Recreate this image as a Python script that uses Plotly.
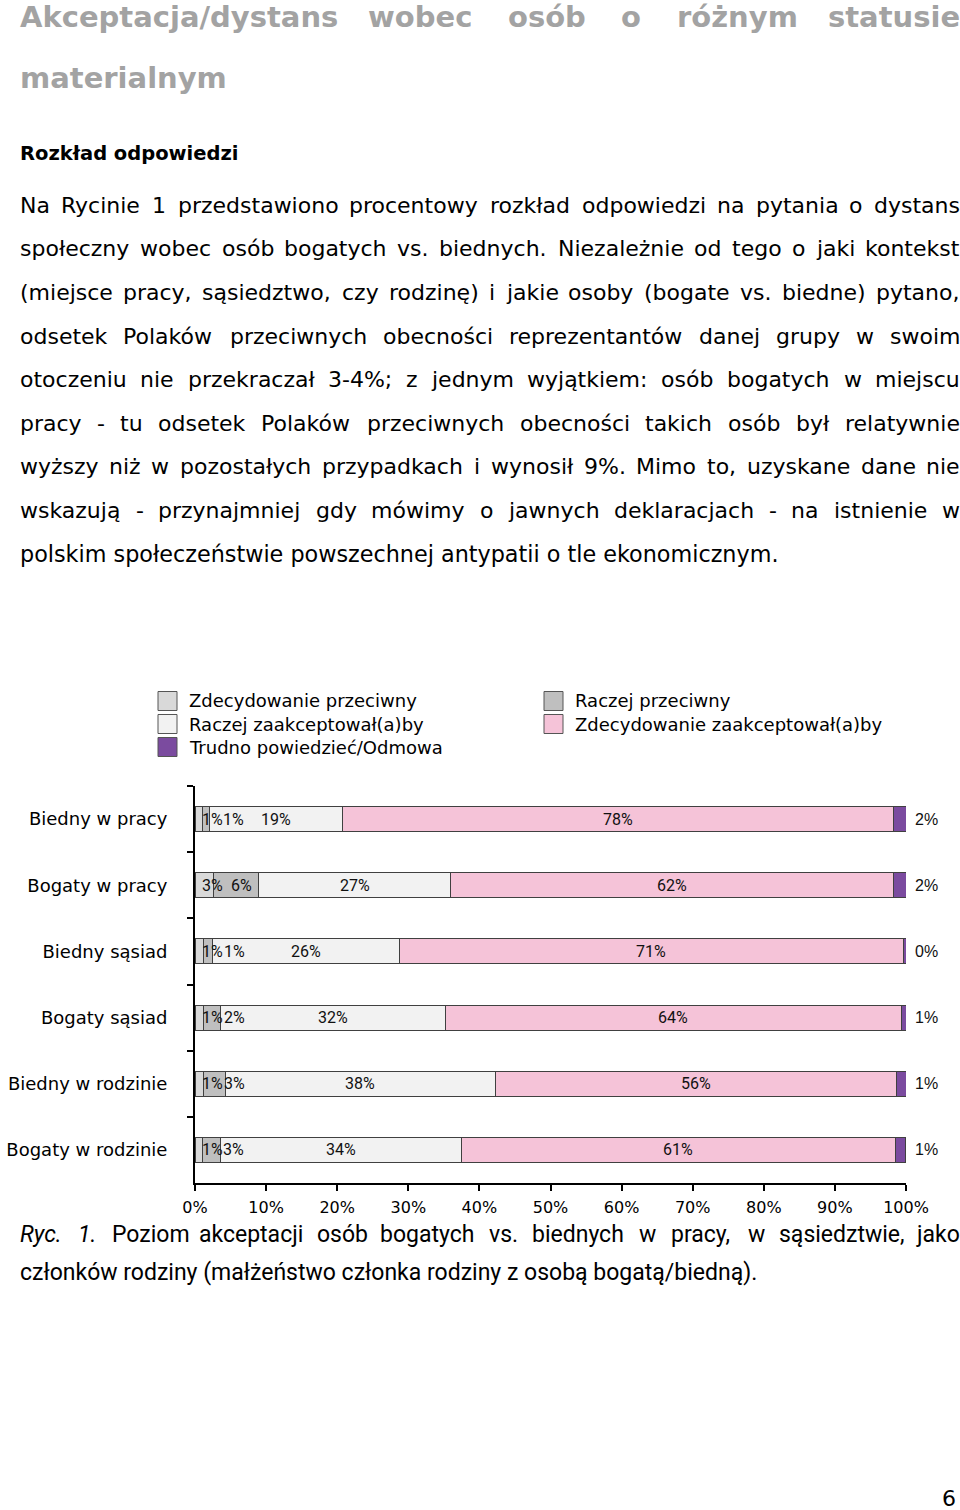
import plotly.graph_objects as go

# ---------------- data ----------------
categories = ["Biedny w pracy", "Bogaty w pracy", "Biedny sąsiad",
              "Bogaty sąsiad", "Biedny w rodzinie", "Bogaty w rodzinie"]
series_names = ["Zdecydowanie przeciwny", "Raczej przeciwny",
                "Raczej zaakceptował(a)by", "Zdecydowanie zaakceptował(a)by",
                "Trudno powiedzieć/Odmowa"]
zdec_przeciwny = [1.0, 2.6, 1.2, 1.2, 1.2, 1.0]
raczej_przeciwny = [1.1, 6.3, 1.2, 2.4, 3.1, 2.6]
raczej_zaakceptowalby = [18.6, 27.1, 26.3, 31.6, 37.9, 33.9]
zdec_zaakceptowalby = [77.6, 62.2, 71.0, 64.1, 56.4, 61.0]
trudno_odmowa = [1.7, 1.8, 0.3, 0.7, 1.4, 1.4]
x_ticks = [0, 10, 20, 30, 40, 50, 60, 70, 80, 90, 100]
x_tick_labels = ["0%", "10%", "20%", "30%", "40%", "50%", "60%", "70%", "80%", "90%", "100%"]

title_lines = ["Akceptacja/dystans wobec osób o różnym statusie", "materialnym"]
heading = "Rozkład odpowiedzi"
body_lines = [
    "Na Rycinie 1 przedstawiono procentowy rozkład odpowiedzi na pytania o dystans",
    "społeczny wobec osób bogatych vs. biednych. Niezależnie od tego o jaki kontekst",
    "(miejsce pracy, sąsiedztwo, czy rodzinę) i jakie osoby (bogate vs. biedne) pytano,",
    "odsetek Polaków przeciwnych obecności reprezentantów danej grupy w swoim",
    "otoczeniu nie przekraczał 3-4%; z jednym wyjątkiem: osób bogatych w miejscu",
    "pracy - tu odsetek Polaków przeciwnych obecności takich osób był relatywnie",
    "wyższy niż w pozostałych przypadkach i wynosił 9%. Mimo to, uzyskane dane nie",
    "wskazują - przynajmniej gdy mówimy o jawnych deklaracjach - na istnienie w",
    "polskim społeczeństwie powszechnej antypatii o tle ekonomicznym.",
]
caption_lines = [
    "<i>Ryc.</i> <i>1.</i> Poziom akceptacji osób bogatych vs. biednych w pracy, w sąsiedztwie, jako",
    "członków rodziny (małżeństwo członka rodziny z osobą bogatą/biedną).",
]
page_number = "6"

# ---------------- helpers ----------------
W, H = 960, 1510


def PX(x):
    return x / W


def PY(y):
    return 1 - y / H


DV = {" ": 651, "%": 1946, "(": 799, ")": 799, ",": 651, "-": 739, ".": 651, "/": 690,
      ":": 690, ";": 690,
      "A": 1401, "B": 1405, "C": 1430, "D": 1577, "E": 1294, "F": 1178, "G": 1587,
      "H": 1540, "I": 604, "J": 604, "K": 1343, "L": 1141, "M": 1767, "N": 1532,
      "O": 1612, "P": 1235, "Q": 1612, "R": 1423, "S": 1300, "T": 1251, "U": 1499,
      "V": 1401, "W": 2025, "X": 1403, "Y": 1251, "Z": 1403,
      "a": 1255, "b": 1300, "c": 1126, "d": 1300, "e": 1260, "f": 721, "g": 1300,
      "h": 1298, "i": 569, "j": 569, "k": 1186, "l": 569, "m": 1995, "n": 1298,
      "o": 1253, "p": 1300, "q": 1300, "r": 842, "s": 1067, "t": 803, "u": 1298,
      "v": 1212, "w": 1675, "x": 1212, "y": 1212, "z": 1075,
      "ą": 1255, "ć": 1126, "ę": 1260, "ł": 600, "ń": 1298, "ó": 1253, "ś": 1067,
      "ź": 1075, "ż": 1075}
for d in "0123456789":
    DV[d] = 1303


def plain(s):
    return s.replace("<i>", "").replace("</i>", "").replace("<b>", "").replace("</b>", "")


def tw(s, size, scale=1.0):
    return sum(DV.get(ch, 1200) for ch in plain(s)) / 2048.0 * size * scale


fig = go.Figure()


def ann(text, x, y, size, family="DejaVu Sans", color="black", xanchor="left",
        weight="normal"):
    fig.add_annotation(text=text, x=x, y=y, xref="paper", yref="paper",
                       xanchor=xanchor, yanchor="middle", showarrow=False,
                       borderpad=0, borderwidth=0,
                       font=dict(family=family, size=size, color=color, weight=weight))


def page_text(text, x, y, size, **kw):
    ann(text, PX(x), PY(y), size, **kw)


def justify(line, y, size, scale=1.0, left=20, right=960, **kw):
    words = line.split(" ")
    widths = [tw(w, size, scale) for w in words]
    gap = (right - left - sum(widths)) / (len(words) - 1)
    x = left
    for i, (w, wd) in enumerate(zip(words, widths)):
        if i == len(words) - 1:
            page_text(w, right, y, size, xanchor="right", **kw)
        else:
            page_text(w, x, y, size, xanchor="left", **kw)
        x += wd + gap


# ---------------- bars ----------------
colors = ["#d9d9d9", "#bfbfbf", "#f2f2f2", "#f5c3d8", "#7b4b9f"]
series = [zdec_przeciwny, raczej_przeciwny, raczej_zaakceptowalby,
          zdec_zaakceptowalby, trudno_odmowa]
for name, vals, col in zip(series_names, series, colors):
    fig.add_trace(go.Bar(y=categories, x=vals, name=name, orientation="h",
                         marker=dict(color=col, line=dict(color="#404040", width=1)),
                         showlegend=False))

# segment labels
seg_font = "Roboto, Liberation Sans, sans-serif"
SEG_SIZE = 16


def seg_label(text, x, cat, anchor, xshift=0, family=seg_font, size=SEG_SIZE):
    fig.add_annotation(text=text, x=x, y=cat, xref="x", yref="y", xshift=xshift,
                       xanchor=anchor, showarrow=False, borderpad=0, borderwidth=0,
                       font=dict(family=family, size=size, color="#111"))


for i, cat in enumerate(categories):
    vals = [s[i] for s in series]
    starts = [sum(vals[:k]) for k in range(5)]
    labels = [f"{round(v)}%" for v in vals]
    seg_label(labels[0], starts[0] + 1.0, cat, "left")
    if vals[1] >= 4:
        seg_label(labels[1], starts[1] + vals[1] / 2 + 0.8, cat, "center")
    else:
        seg_label(labels[1], starts[1] + 2.9, cat, "left")
    for k in (2, 3):
        seg_label(labels[k], starts[k] + vals[k] / 2, cat, "center")
    seg_label(labels[4], 100, cat, "left", xshift=9,
              family="Liberation Sans, Arial, sans-serif", size=16)

# ---------------- legend (drawn as boxes + labels) ----------------
legend_pos = [(158, 701), (544, 701), (158, 724), (544, 724), (158, 747)]
for name, col, (lx, ly) in zip(series_names, colors, legend_pos):
    fig.add_shape(type="rect", xref="paper", yref="paper",
                  x0=PX(lx), x1=PX(lx + 19), y0=PY(ly + 9.5), y1=PY(ly - 9.5),
                  fillcolor=col, line=dict(color="#555555", width=1))
    page_text(name, lx + 31, ly, 18)

fig.update_layout(
    width=W, height=H, margin=dict(l=0, r=0, t=0, b=0, pad=0, autoexpand=False),
    autosize=False,
    barmode="stack", bargap=0.62,
    plot_bgcolor="white", paper_bgcolor="white",
    xaxis=dict(domain=[PX(195), PX(906)], range=[0, 100], tickvals=x_ticks,
               ticktext=x_tick_labels, ticks="outside", ticklen=6, tickwidth=2,
               tickcolor="black", showline=True, linewidth=2, linecolor="black",
               showgrid=False, zeroline=False, automargin=False, ticklabelstandoff=3,
               tickfont=dict(family="DejaVu Sans", size=16, color="black")),
    yaxis=dict(domain=[PY(1183), PY(786)], autorange="reversed", type="category",
               tickson="boundaries", ticks="outside", ticklen=6, tickwidth=2,
               tickcolor="black", showline=True, linewidth=2, linecolor="black",
               showgrid=False, ticklabelstandoff=22, automargin=False,
               tickfont=dict(family="DejaVu Sans", size=18, color="black")),
    showlegend=False,
    hovermode=False,
)

# ---------------- page text ----------------
justify(title_lines[0], 17, 29, scale=1.1, family="DejaVu Sans", color="#a3a3a3", weight="bold")
page_text(title_lines[1], 20, 78, 29, family="DejaVu Sans", color="#a3a3a3", weight="bold")
page_text(heading, 20, 153, 19.5, family="DejaVu Sans", weight="bold")

body_y = [206, 249, 293, 337, 380, 424, 467, 511, 554]
for k, (line, y) in enumerate(zip(body_lines, body_y)):
    if k < len(body_lines) - 1:
        justify(line, y, 22)
    else:
        page_text(line, 20, y, 22.3)

cap_family = "Roboto, Liberation Sans, sans-serif"
justify(caption_lines[0], 1234, 23, scale=0.88, family=cap_family)
page_text(caption_lines[1], 20, 1272, 23, family=cap_family)

page_text(page_number, 956, 1498, 22, xanchor="right")

fig.write_html("out.html", config={"displayModeBar": False, "responsive": False},
               post_script="document.body.style.margin='0';")
